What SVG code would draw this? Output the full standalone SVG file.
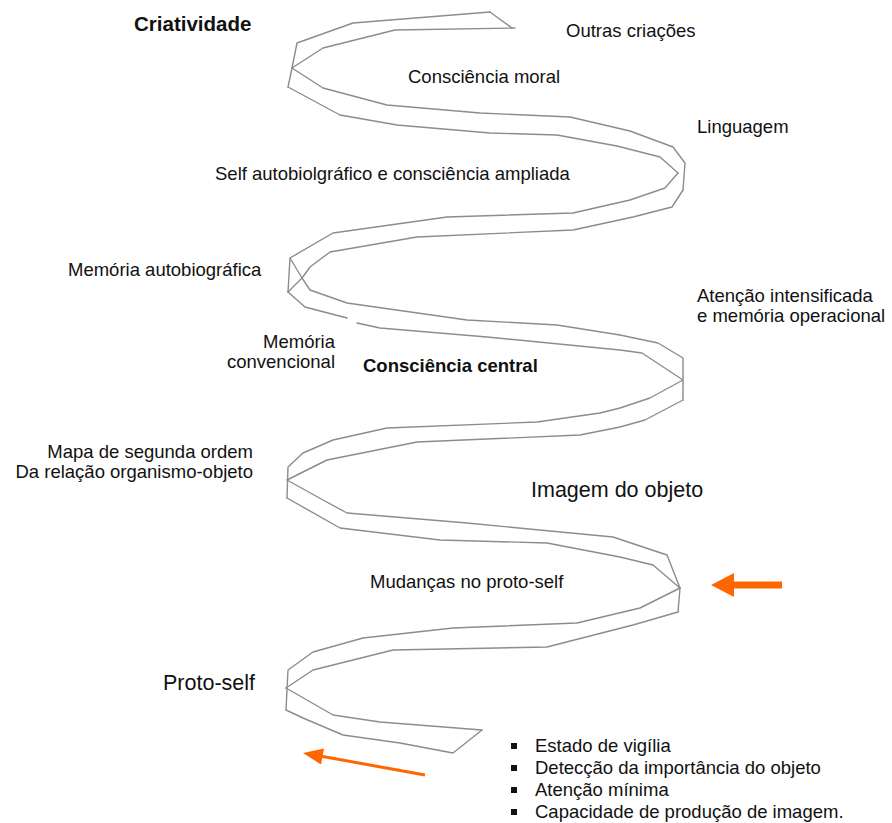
<svg xmlns="http://www.w3.org/2000/svg" width="892" height="823" viewBox="0 0 892 823">
<style>
.bg{fill:#ffffff}
.sp{fill:none;stroke:#8c8c8c;stroke-width:1.4;stroke-linejoin:round;stroke-linecap:round}
.t{font-family:"Liberation Sans",Arial,sans-serif;font-size:18.5px;fill:#111}
.b{font-weight:bold}
.big{font-size:21.5px}
.or{fill:#ff6600}
.ol{stroke:#ff6600;stroke-width:3;fill:none}
.sq{fill:#111}
</style>
<rect class="bg" x="0" y="0" width="892" height="823"/>
<g id="connectors">
<g id="spiral">
<polyline class="sp" points="490,12 353,23 297,43 292,68 288,87"/>
<polyline class="sp" points="515,28 395,30 323,48 292,68"/>
<polyline class="sp" points="490,12 512,28"/>
<polyline class="sp" points="292,68 323,88 387,105 480,113 570,117 630,131 673,147 685,163 683,190"/>
<polyline class="sp" points="288,87 340,115 397,125 490,133 557,135 617,146 660,157 678,173"/>
<polyline class="sp" points="678,173 665,188 630,200 573,213 447,217 333,233 290,258 288,292"/>
<polyline class="sp" points="683,190 672,207 633,217 573,230 417,237 330,252 310,267 302,278 288,292"/>
<polyline class="sp" points="290,258 302,278 310,290 347,303 467,320 557,325 620,335 658,343 683,358 683,400"/>
<polyline class="sp" points="288,292 305,307 347,318"/>
<polyline class="sp" points="357,323 380,328 487,337 620,350 642,353 683,380"/>
<polyline class="sp" points="683,380 650,398 620,408 600,413 537,422 387,428 333,440 303,453 288,467 287,498"/>
<polyline class="sp" points="683,400 645,420 620,427 580,435 417,442 327,460 287,480"/>
<polyline class="sp" points="287,480 323,500 347,513 467,523 613,537 667,555 680,588 678,612"/>
<polyline class="sp" points="287,498 340,528 440,540 547,543 620,557 653,565 680,588"/>
<polyline class="sp" points="680,588 640,608 577,623 453,628 363,638 313,652 288,670 286,710"/>
<polyline class="sp" points="678,612 633,625 547,647 393,650 313,670 286,688"/>
<polyline class="sp" points="286,688 333,715 380,722 482,730"/>
<polyline class="sp" points="286,710 303,718 343,735 400,743 453,753 482,730"/>
</g>
<g id="arrows">
<rect class="or" x="732" y="581.5" width="50" height="7"/>
<polygon class="or" points="711,585 734,573 734,597"/>
<line class="ol" x1="425" y1="775" x2="320" y2="756"/>
<polygon class="or" points="303,753 324,748.5 321,764.5"/>
</g>
</g>
<g id="n-criatividade"><text class="t b" x="134" y="31" style="font-size:20.5px">Criatividade</text></g>
<g id="n-outras"><text class="t" x="566" y="37">Outras criações</text></g>
<g id="n-moral"><text class="t" x="408" y="83">Consciência moral</text></g>
<g id="n-linguagem"><text class="t" x="697" y="133">Linguagem</text></g>
<g id="n-self"><text class="t" x="215" y="180">Self autobiolgráfico e consciência ampliada</text></g>
<g id="n-memauto"><text class="t" x="68" y="276">Memória autobiográfica</text></g>
<g id="n-atencao"><text class="t" x="697" y="302">Atenção intensificada</text><text class="t" x="697" y="322">e memória operacional</text></g>
<g id="n-memconv"><text class="t" x="335" y="348" text-anchor="end">Memória</text><text class="t" x="335" y="368" text-anchor="end">convencional</text></g>
<g id="n-central"><text class="t b" x="363" y="372">Consciência central</text></g>
<g id="n-mapa"><text class="t" x="253" y="458" text-anchor="end">Mapa de segunda ordem</text><text class="t" x="253" y="478" text-anchor="end">Da relação organismo-objeto</text></g>
<g id="n-imagem"><text class="t big" x="531" y="497">Imagem do objeto</text></g>
<g id="n-mudancas"><text class="t" x="370" y="588">Mudanças no proto-self</text></g>
<g id="n-proto"><text class="t big" x="163" y="690">Proto-self</text></g>
<g id="n-lista">
<rect class="sq" x="511" y="743" width="6" height="6"/>
<text class="t" x="535" y="752">Estado de vigília</text>
<rect class="sq" x="511" y="765" width="6" height="6"/>
<text class="t" x="535" y="774">Detecção da importância do objeto</text>
<rect class="sq" x="511" y="787" width="6" height="6"/>
<text class="t" x="535" y="796">Atenção mínima</text>
<rect class="sq" x="511" y="809" width="6" height="6"/>
<text class="t" x="535" y="818">Capacidade de produção de imagem.</text>
</g>
</svg>
